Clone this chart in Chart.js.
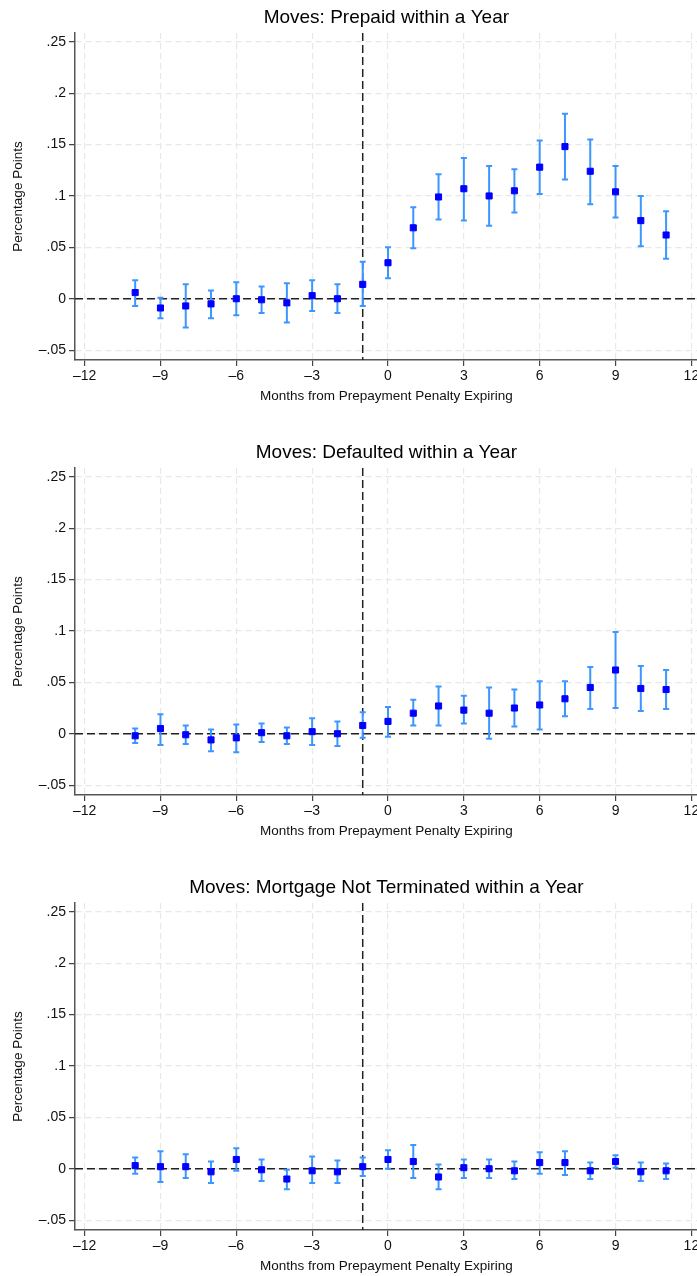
<!DOCTYPE html>
<html>
<head>
<meta charset="utf-8">
<script src="https://cdn.jsdelivr.net/npm/chart.js@4.4.0/dist/chart.umd.min.js"></script>
<style>
  html, body { margin: 0; padding: 0; background: #fff; overflow: hidden; }
  #wrap { position: relative; width: 697px; height: 1276px; overflow: hidden; }
  canvas { position: absolute; left: 0; }
</style>
</head>
<body>
<div id="wrap">
  <canvas id="chart1" width="703" height="435" style="top:0px"></canvas>
  <canvas id="chart2" width="703" height="435" style="top:435px"></canvas>
  <canvas id="chart3" width="703" height="435" style="top:870px"></canvas>
</div>
<script>
// months relative to the prepayment penalty expiring
const months = [-10, -9, -8, -7, -6, -5, -4, -3, -2, -1, 0, 1, 2, 3, 4, 5, 6, 7, 8, 9, 10, 11];

const prepaidEst = [0.006, -0.009, -0.007, -0.005, 0.000, -0.001, -0.004, 0.003, 0.000, 0.014, 0.035, 0.069, 0.099, 0.107, 0.100, 0.105, 0.128, 0.148, 0.124, 0.104, 0.076, 0.062];
const prepaidLo  = [-0.007, -0.019, -0.028, -0.019, -0.016, -0.014, -0.023, -0.012, -0.014, -0.007, 0.020, 0.049, 0.077, 0.076, 0.071, 0.084, 0.102, 0.116, 0.092, 0.079, 0.051, 0.039];
const prepaidHi  = [0.018, 0.001, 0.014, 0.008, 0.016, 0.012, 0.015, 0.018, 0.014, 0.036, 0.050, 0.089, 0.121, 0.137, 0.129, 0.126, 0.154, 0.180, 0.155, 0.129, 0.100, 0.085];

const defaultEst = [-0.002, 0.005, -0.001, -0.006, -0.004, 0.001, -0.002, 0.002, 0.000, 0.008, 0.012, 0.020, 0.027, 0.023, 0.020, 0.025, 0.028, 0.034, 0.045, 0.062, 0.044, 0.043];
const defaultLo  = [-0.009, -0.011, -0.010, -0.017, -0.018, -0.008, -0.010, -0.011, -0.012, -0.004, -0.003, 0.008, 0.008, 0.010, -0.005, 0.007, 0.004, 0.017, 0.024, 0.025, 0.022, 0.024];
const defaultHi  = [0.005, 0.019, 0.008, 0.004, 0.009, 0.010, 0.006, 0.015, 0.012, 0.021, 0.026, 0.033, 0.046, 0.037, 0.045, 0.043, 0.051, 0.051, 0.065, 0.099, 0.066, 0.062];

const notTermEst = [0.003, 0.002, 0.002, -0.003, 0.009, -0.001, -0.010, -0.002, -0.003, 0.002, 0.009, 0.007, -0.008, 0.001, 0.000, -0.002, 0.006, 0.006, -0.002, 0.007, -0.003, -0.002];
const notTermLo  = [-0.005, -0.013, -0.009, -0.014, -0.002, -0.012, -0.020, -0.014, -0.014, -0.007, 0.000, -0.009, -0.020, -0.009, -0.009, -0.010, -0.005, -0.006, -0.010, 0.001, -0.012, -0.010];
const notTermHi  = [0.011, 0.017, 0.014, 0.007, 0.020, 0.009, -0.001, 0.012, 0.008, 0.011, 0.018, 0.023, 0.004, 0.009, 0.009, 0.007, 0.016, 0.017, 0.006, 0.013, 0.006, 0.005];

const xTicks = [-12, -9, -6, -3, 0, 3, 6, 9, 12];
const xTickLabels = ["\u201312", "\u20139", "\u20136", "\u20133", "0", "3", "6", "9", "12"];
const yTicks = [-0.05, 0, 0.05, 0.1, 0.15, 0.2, 0.25];
const yTickLabels = ["\u2013.05", "0", ".05", ".1", ".15", ".2", ".25"];

const eventMonth = -1;
const FONT = "'Liberation Sans', Arial, Helvetica, sans-serif";

// error bars + reference lines
const ciPlugin = {
    id: "ciBars",
    beforeDatasetsDraw(chart) {
        const ctx = chart.ctx;
        const xs = chart.scales.x, ys = chart.scales.y;
        const area = chart.chartArea;
        const ci = chart.options.plugins.ciBars;

        ctx.save();
        ctx.strokeStyle = "#222";
        ctx.lineWidth = 1.5;
        ctx.setLineDash([8, 4]);
        ctx.beginPath();
        ctx.moveTo(area.left, ys.getPixelForValue(0));
        ctx.lineTo(area.right, ys.getPixelForValue(0));
        ctx.moveTo(xs.getPixelForValue(eventMonth), area.top);
        ctx.lineTo(xs.getPixelForValue(eventMonth), area.bottom);
        ctx.stroke();
        ctx.setLineDash([]);

        ctx.strokeStyle = "#3c96ff";
        ctx.lineWidth = 2;
        for (let i = 0; i < months.length; i++) {
            const x = xs.getPixelForValue(months[i]);
            const y1 = ys.getPixelForValue(ci.lo[i]);
            const y2 = ys.getPixelForValue(ci.hi[i]);
            ctx.beginPath();
            ctx.moveTo(x, y1);
            ctx.lineTo(x, y2);
            ctx.moveTo(x - 3, y1);
            ctx.lineTo(x + 3, y1);
            ctx.moveTo(x - 3, y2);
            ctx.lineTo(x + 3, y2);
            ctx.stroke();
        }
        ctx.restore();
    }
};

function makeChart(id, title, est, lo, hi) {
    const ctx = document.getElementById(id).getContext("2d");
    return new Chart(ctx, {
        type: "scatter",
        data: {
            datasets: [
                {
                    data: months.map((m, i) => ({x: m, y: est[i]})),
                    pointStyle: "rect",
                    pointRadius: 4.3,
                    backgroundColor: "#0000ff",
                    borderColor: "#0000ff",
                    borderWidth: 1,
                },
            ],
        },
        options: {
            responsive: false,
            animation: false,
            layout: {padding: {left: 0, right: 0, top: 0, bottom: 0}},
            plugins: {
                legend: {display: false},
                tooltip: {enabled: false},
                title: {
                    display: true,
                    text: title,
                    fullSize: false,
                    color: "#000",
                    font: {family: FONT, size: 19, weight: "normal", lineHeight: 1.2},
                    padding: {top: 6, bottom: 4.2},
                },
                ciBars: {lo: lo, hi: hi},
            },
            scales: {
                x: {
                    type: "linear",
                    min: -12.38,
                    max: 12.25,
                    afterBuildTicks: (s) => { s.ticks = xTicks.map(v => ({value: v})); },
                    afterFit: (s) => { s.height = 75; s.paddingLeft = 0; s.paddingRight = 0; },
                    ticks: {
                        autoSkip: false,
                        maxRotation: 0,
                        padding: 2,
                        color: "#111",
                        font: {family: FONT, size: 14},
                        callback: (v, i) => xTickLabels[i],
                    },
                    grid: {
                        color: "#e8e8e8",
                        lineWidth: 1.2,
                        tickColor: "#444",
                        tickLength: 6,
                        tickWidth: 1.2,
                        tickBorderDash: [1, 0],
                    },
                    border: {display: true, color: "#555", width: 1.5, dash: [6, 4]},
                    title: {
                        display: true,
                        text: "Months from Prepayment Penalty Expiring",
                        color: "#111",
                        font: {family: FONT, size: 13.5},
                        padding: {top: 0, bottom: 31},
                    },
                },
                y: {
                    type: "linear",
                    min: -0.0596,
                    max: 0.2585,
                    afterBuildTicks: (s) => { s.ticks = yTicks.map(v => ({value: v})); },
                    afterFit: (s) => { s.width = 75; s.paddingTop = 0; s.paddingBottom = 0; },
                    ticks: {
                        padding: 3,
                        color: "#111",
                        font: {family: FONT, size: 14},
                        callback: (v, i) => yTickLabels[i],
                    },
                    grid: {
                        color: "#e8e8e8",
                        lineWidth: 1.2,
                        tickColor: "#444",
                        tickLength: 6,
                        tickWidth: 1.2,
                        tickBorderDash: [1, 0],
                    },
                    border: {display: true, color: "#555", width: 1.5, dash: [6, 4]},
                    title: {
                        display: true,
                        text: "Percentage Points",
                        color: "#111",
                        font: {family: FONT, size: 13.5},
                        padding: {top: 10, bottom: 0},
                    },
                },
            },
        },
        plugins: [ciPlugin],
    });
}

makeChart("chart1", "Moves: Prepaid within a Year", prepaidEst, prepaidLo, prepaidHi);
makeChart("chart2", "Moves: Defaulted within a Year", defaultEst, defaultLo, defaultHi);
makeChart("chart3", "Moves: Mortgage Not Terminated within a Year", notTermEst, notTermLo, notTermHi);
</script>
</body>
</html>
